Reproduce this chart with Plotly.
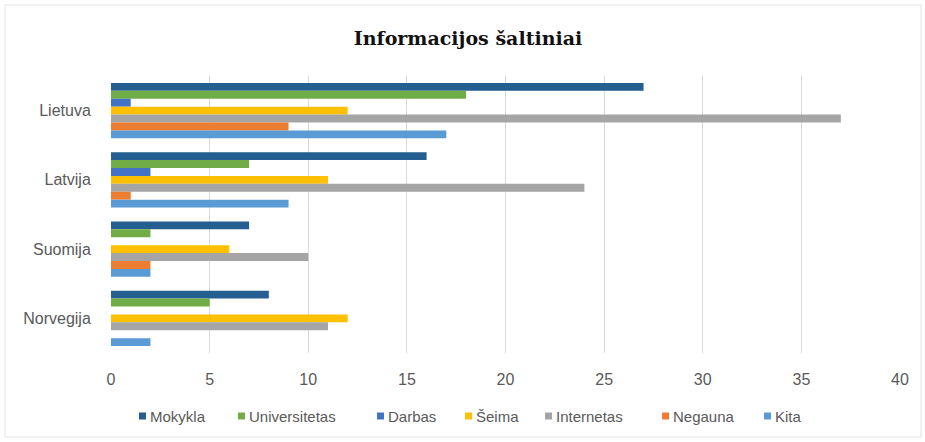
import plotly.graph_objects as go

categories = ["Lietuva", "Latvija", "Suomija", "Norvegija"]
series_names = ["Mokykla", "Universitetas", "Darbas", "Šeima", "Internetas", "Negauna", "Kita"]
mokykla = [27, 16, 7, 8]
universitetas = [18, 7, 2, 5]
darbas = [1, 2, 0, 0]
seima = [12, 11, 6, 12]
internetas = [37, 24, 10, 11]
negauna = [9, 1, 2, 0]
kita = [17, 9, 2, 2]
x_ticks = [0, 5, 10, 15, 20, 25, 30, 35, 40]

values = [mokykla, universitetas, darbas, seima, internetas, negauna, kita]
colors = ["#255E91", "#70AD47", "#4472C4", "#FFC000", "#A5A5A5", "#ED7D31", "#5B9BD5"]

fig = go.Figure()
for name, vals, col in zip(series_names, values, colors):
    fig.add_trace(go.Bar(y=categories, x=vals, name=name, orientation="h",
                         marker=dict(color=col, line=dict(width=0))))

W, H = 925, 442
L, R, T, B = 111, 25, 76, 89
pw, ph = W - L - R, H - T - B

def px_to_paper_x(px):
    return (px - L) / pw

def px_to_paper_y(py):
    return 1 - (py - T) / ph

# custom legend (square + label), positioned like the reference
legend_square_px = [139, 238, 377, 465, 545, 662, 764]
legend_y = 416
shapes = [dict(type="rect", xref="paper", yref="paper",
               x0=px_to_paper_x(5), x1=px_to_paper_x(921),
               y0=px_to_paper_y(437), y1=px_to_paper_y(5),
               line=dict(color="#E3E3E3", width=1), layer="below")]
annotations = []
for name, col, sx in zip(series_names, colors, legend_square_px):
    shapes.append(dict(type="rect", xref="paper", yref="paper",
                       x0=px_to_paper_x(sx), x1=px_to_paper_x(sx + 7),
                       y0=px_to_paper_y(legend_y + 3.5), y1=px_to_paper_y(legend_y - 3.5),
                       fillcolor=col, line=dict(width=0)))
    annotations.append(dict(text=name, xref="paper", yref="paper",
                            x=px_to_paper_x(sx + 9), y=px_to_paper_y(legend_y),
                            xanchor="left", yanchor="middle", showarrow=False,
                            font=dict(family="Liberation Sans", size=15, color="#595959")))

fig.update_layout(
    width=W, height=H,
    margin=dict(l=L, r=R, t=T, b=B),
    paper_bgcolor="white", plot_bgcolor="white",
    barmode="group", bargap=0.2, bargroupgap=0,
    showlegend=False,
    title=dict(text="<b>Informacijos šaltiniai</b>", xref="container", x=468 / W,
               xanchor="center", y=1 - 38 / H, yanchor="middle",
               font=dict(family="DejaVu Serif", size=19, color="#111111")),
    xaxis=dict(range=[0, 40], tickvals=x_ticks, showgrid=True, gridcolor="#D9D9D9",
               gridwidth=1, zeroline=False, showline=False, automargin=False,
               tickfont=dict(family="Liberation Sans", size=16, color="#595959"),
               ticks="outside", ticklen=12, tickcolor="rgba(0,0,0,0)"),
    yaxis=dict(autorange="reversed", showgrid=False, showline=False, zeroline=False,
               automargin=False,
               tickfont=dict(family="Liberation Sans", size=16, color="#595959"),
               ticks="outside", ticklen=16, tickcolor="rgba(0,0,0,0)"),
    shapes=shapes,
    annotations=annotations,
)

fig.write_html("out.html", config={"displayModeBar": False},
               post_script="document.body.style.margin='0';")
